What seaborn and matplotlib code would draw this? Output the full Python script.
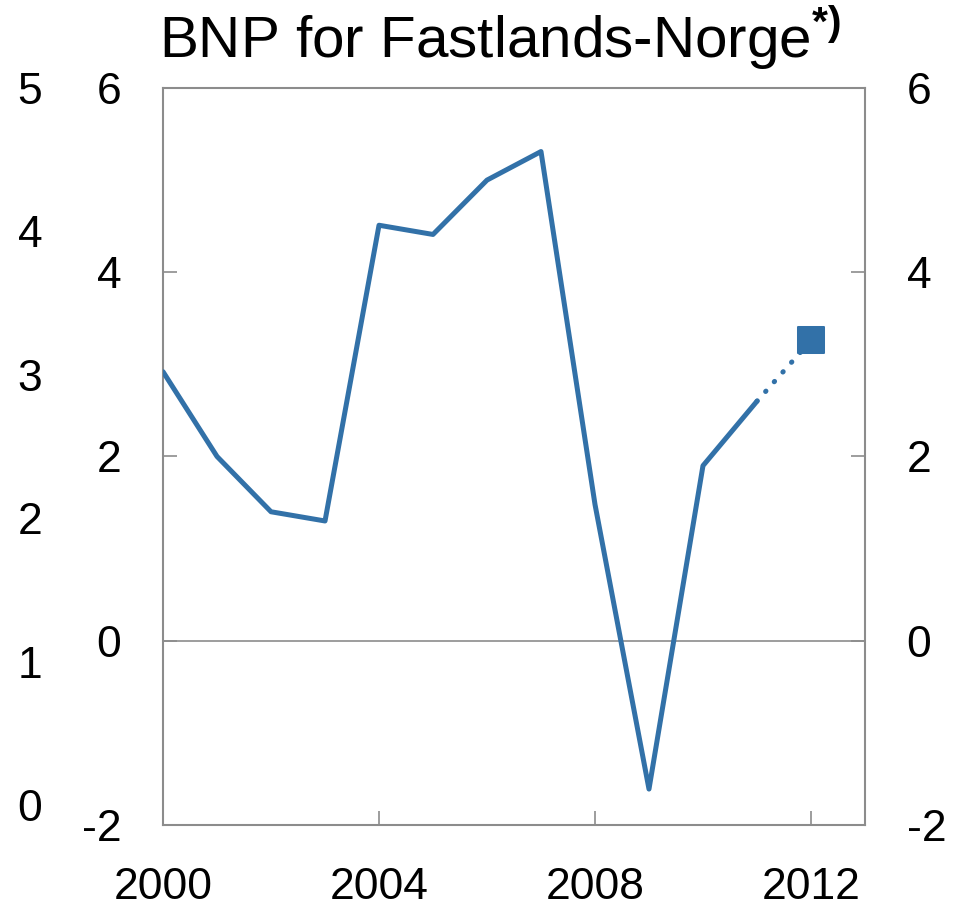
import pandas as pd
import seaborn as sns
import matplotlib.pyplot as plt
from matplotlib.ticker import FuncFormatter

years = [2000, 2001, 2002, 2003, 2004, 2005, 2006, 2007, 2008, 2009, 2010, 2011]
growth = [2.92, 2.0, 1.40, 1.30, 4.51, 4.41, 5.0, 5.31, 1.48, -1.61, 1.90, 2.6]
proj_years = [2011, 2012]
proj_growth = [2.6, 3.26]
left_ticks = [0, 1, 2, 3, 4, 5]
main_ticks = [-2, 0, 2, 4, 6]
year_ticks = [2000, 2004, 2008, 2012]
title = "BNP for Fastlands-Norge"

sns.set_style("ticks")
plt.rcParams['font.family'] = ['Liberation Sans', 'DejaVu Sans']
plt.rcParams['mathtext.fontset'] = 'custom'
plt.rcParams['mathtext.rm'] = 'Liberation Sans'
plt.rcParams['mathtext.bf'] = 'Liberation Sans:bold'
plt.rcParams['axes.unicode_minus'] = False
plt.rcParams['text.color'] = 'black'
plt.rcParams['xtick.labelcolor'] = 'black'
plt.rcParams['ytick.labelcolor'] = 'black'

blue = "#3271a8"
grey = "#8c8c8c"

hist = pd.DataFrame({'year': years, 'value': growth})
proj = pd.DataFrame({'year': proj_years, 'value': proj_growth})

fig = plt.figure(figsize=(9.63, 9.06), dpi=100)
ax = fig.add_axes([0.1693, 0.0894, 0.7289, 0.8135])

ax.axhline(0, color=grey, lw=1.2, zorder=1)
sns.lineplot(x='year', y='value', data=hist, ax=ax, color=blue, lw=3.6, zorder=3)
sns.lineplot(x='year', y='value', data=proj, ax=ax, color=blue, lw=3.6, zorder=3,
             linestyle=(0, (0.1, 2.5)), dash_capstyle='round')
sns.scatterplot(x='year', y='value', data=proj.iloc[[1]], ax=ax, color=blue,
                marker='s', s=330, edgecolor=blue, zorder=4)

# extra scale on the far left
ax2 = ax.twinx()
ax2.set_ylim(-0.14, 5.0)
ax2.set_yticks(left_ticks)
ax2.yaxis.set_ticks_position('left')
ax2.tick_params(axis='y', length=0, labelsize=32, pad=87, labelleft=True, labelright=False)
for s in ax2.spines.values():
    s.set_visible(False)

ax.set_xlim(2000, 2013)
ax.set_ylim(-2, 6)
ax.set_xticks(year_ticks)
ax.set_yticks(main_ticks)
ax.yaxis.set_major_formatter(FuncFormatter(lambda v, p: '%d' % v))
ax.set_xlabel('')
ax.set_ylabel('')
for s in ax.spines.values():
    s.set_visible(True)
    s.set_color(grey)
    s.set_linewidth(1.5)
ax.yaxis.set_ticks_position('both')
ax.tick_params(axis='both', direction='in', length=10, width=1.2, color=grey,
               labelsize=32, pad=30)
ax.tick_params(axis='y', left=True, right=True, labelleft=True, labelright=True)

fig.text(0.519, 0.936, title + r"$^{\mathbf{*)}}$", ha='center', va='baseline', fontsize=42)

plt.savefig("out.png", dpi=100)
plt.close()
